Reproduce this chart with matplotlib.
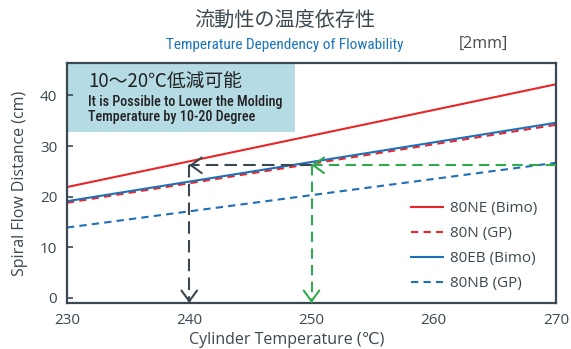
import matplotlib
matplotlib.use("Agg")
import matplotlib.pyplot as plt
from matplotlib import font_manager
from matplotlib.patches import Rectangle

# データ
temps = [230, 270]
ne_bimo = [21.9, 42.2]
n_gp = [18.8, 34.2]
eb_bimo = [19.1, 34.6]
nb_gp = [13.9, 26.7]
series_labels = ["80NE (Bimo)", "80N (GP)", "80EB (Bimo)", "80NB (GP)"]
x_ticks = [230, 240, 250, 260, 270]
y_ticks = [0, 10, 20, 30, 40]

# 矢印の位置 (温度低減)
target_flow = 26.2
temp_low = 240
temp_mid = 250
temp_high = 270

dark = "#3b4852"
red = "#e8262a"
blue = "#1f6fb8"
green = "#2faa4c"
sans = ["Open Sans", "Noto Sans CJK JP", "DejaVu Sans"]

# 細めのフォントを探す
installed = {f.name for f in font_manager.fontManager.ttflist}
narrow_name = "Roboto"
for cand in ["Roboto Condensed", "Open Sans Condensed", "Liberation Sans Narrow", "Roboto"]:
    if cand in installed:
        narrow_name = cand
        break
narrow = [narrow_name, "DejaVu Sans"]
is_condensed = narrow_name != "Roboto"

plt.rcParams["font.family"] = sans

fig = plt.figure(figsize=(5.71, 3.49), dpi=100)
ax = fig.add_axes([67 / 571, 1 - 303 / 349, 489 / 571, 240 / 349])

ax.plot(temps, ne_bimo, color=red, lw=1.5, label=series_labels[0])
ax.plot(temps, n_gp, color=red, lw=1.5, ls=(0, (3.5, 2.5)), label=series_labels[1])
ax.plot(temps, eb_bimo, color=blue, lw=1.5, label=series_labels[2])
ax.plot(temps, nb_gp, color=blue, lw=1.5, ls=(0, (3.5, 2.5)), label=series_labels[3])

ax.set_xlim(230, 270)
ax.set_ylim(-1, 46.4)
ymin = ax.get_ylim()[0]

# 点線の矢印
def dashed_arrow(x0, y0, x1, y1, color, dash):
    ax.plot([x0, x1], [y0, y1], color=color, lw=1.5, ls=(0, dash), zorder=4)
    ax.annotate("", xy=(x1, y1), xytext=(x1 + (x0 - x1) * 0.02, y1 + (y0 - y1) * 0.02),
                arrowprops=dict(arrowstyle="->,head_length=0.55,head_width=0.4",
                                color=color, lw=1.5, mutation_scale=14),
                zorder=5, annotation_clip=False)

dashed_arrow(temp_mid, target_flow, temp_low, target_flow, dark, (6, 3))
dashed_arrow(temp_low, target_flow, temp_low, ymin, dark, (6, 3))
dashed_arrow(temp_high, target_flow, temp_mid, target_flow, green, (5, 3))
dashed_arrow(temp_mid, target_flow, temp_mid, ymin, green, (5, 3))

# 説明ボックス
ax.add_patch(Rectangle((0, 0.7125), 0.466, 0.2875, transform=ax.transAxes,
                       facecolor="#b5dbe4", edgecolor="none", zorder=1))
ax.text(0.043, 0.917, "10～20℃低減可能", transform=ax.transAxes, fontsize=13.5,
        family=["Noto Sans CJK JP", "DejaVu Sans"], color="#222222", va="center", zorder=6)
box_size = 10.2 if is_condensed else 8.8
ax.text(0.043, 0.836, "It is Possible to Lower the Molding", transform=ax.transAxes,
        fontsize=box_size, family=narrow, weight="medium", color="#222222", va="center", zorder=6)
ax.text(0.043, 0.773, "Temperature by 10-20 Degree", transform=ax.transAxes,
        fontsize=box_size, family=narrow, weight="medium", color="#222222", va="center", zorder=6)

ax.set_xticks(x_ticks)
ax.set_yticks(y_ticks)
ax.tick_params(axis="x", length=0, pad=7, labelsize=11, labelcolor=dark)
ax.tick_params(axis="y", direction="in", length=4, width=1.2, color=dark, pad=7,
               labelsize=11, labelcolor=dark)
for sp in ax.spines.values():
    sp.set_color(dark)
    sp.set_linewidth(1.6)

ax.set_xlabel("Cylinder Temperature (℃)", fontsize=11.5, color=dark,
              family=["Open Sans", "DejaVu Sans"])
ax.xaxis.set_label_coords((287 - 67) / 489, -0.12)
ax.set_ylabel("Spiral Flow Distance (cm)", fontsize=11.5, color=dark)
ax.yaxis.set_label_coords(-0.08, 0.5)

leg = ax.legend(loc="upper left", bbox_to_anchor=(0.69, 0.45), frameon=False,
                fontsize=11, handlelength=2.1, handletextpad=0.5, labelspacing=0.65,
                borderaxespad=0)
for t in leg.get_texts():
    t.set_color(dark)

fig.text(0.499, 0.943, "流動性の温度依存性", ha="center", va="center", fontsize=14.5,
         color="#3c4850", family=["Noto Sans CJK JP", "DejaVu Sans"])
fig.text(0.499, 0.871, "Temperature Dependency of Flowability", ha="center", va="center",
         fontsize=11 if is_condensed else 10, color="#1b75bc", family=narrow)
fig.text(0.89, 0.874, "[2mm]", ha="right", va="center", fontsize=11.5, color="#4a4a4a",
         family=["Open Sans", "DejaVu Sans"])

fig.savefig("out.png", dpi=100)
